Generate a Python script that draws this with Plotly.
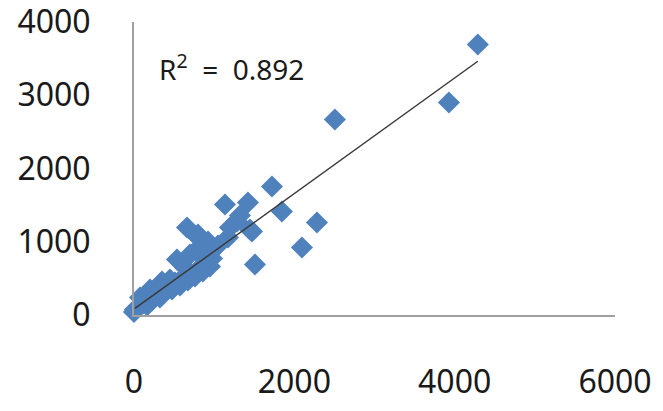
import plotly.graph_objects as go

# Observed values (x, y)
x_vals = [4289, 3928, 2506, 1721, 1845, 2282, 2095, 1509, 1135, 1421, 1471, 1197, 1322, 1284, 1446,
          661, 798, 923, 786, 910, 698, 536, 1047, 1172,
          0, 12, 62, 112, 162, 150, 224, 262, 324, 299, 374, 411, 474, 511, 574, 599, 673, 698, 761,
          798, 860, 885, 948, 973, 449, 200, 75, 349, 636, 786, 823]
y_vals = [3693, 2901, 2669, 1754, 1413, 1263, 922, 689, 1509, 1536, 1140, 1195, 1358, 1276, 1167,
          1195, 1099, 1003, 1072, 935, 826, 758, 949, 1058,
          40, 75, 116, 157, 130, 239, 198, 266, 239, 334, 307, 389, 348, 444, 403, 498, 471, 567, 526,
          621, 594, 689, 662, 771, 485, 348, 239, 457, 648, 894, 826]

# Linear trend
trend_slope = 0.789
trend_intercept = 80
r2_text = "R<sup>2</sup>  =  0.892"

x_ticks = [0, 2000, 4000, 6000]
y_ticks = [0, 1000, 2000, 3000, 4000]

FONT = "Noto Sans"
TXT = "#1a1a1a"

fig = go.Figure()
fig.add_trace(go.Scatter(
    x=x_vals, y=y_vals, mode="markers",
    marker=dict(symbol="diamond", size=17, color="#4F81BD", line=dict(width=0)),
    cliponaxis=False, showlegend=False,
))
tx = [min(x_vals) + 12, max(x_vals)]
fig.add_trace(go.Scatter(
    x=tx, y=[trend_slope * v + trend_intercept for v in tx], mode="lines",
    line=dict(color="#3a3a3a", width=1.5), showlegend=False, cliponaxis=False,
))
fig.add_annotation(x=287, y=3380, xref="x", yref="y", text=r2_text, showarrow=False,
                   xanchor="left", yanchor="middle",
                   font=dict(family=FONT, size=28, color=TXT))

fig.update_layout(
    width=663, height=411,
    margin=dict(l=134, r=48, t=22, b=96, autoexpand=False),
    paper_bgcolor="white", plot_bgcolor="white",
    font=dict(family=FONT, size=32, color=TXT),
)
fig.update_xaxes(range=[0, 6000], tickvals=x_ticks, ticktext=[str(v) for v in x_ticks],
                 showgrid=False, zeroline=False, showline=True, linecolor="#a0a0a0", linewidth=2,
                 automargin=False, ticks="outside", ticklen=38, tickcolor="rgba(0,0,0,0)",
                 ticklabeloverflow="allow",
                 tickfont=dict(family=FONT, size=32, color=TXT))
fig.update_yaxes(range=[0, 4000], tickvals=y_ticks, ticktext=[str(v) for v in y_ticks],
                 showgrid=False, zeroline=False, showline=True, linecolor="#a0a0a0", linewidth=2,
                 automargin=False, ticks="outside", ticklen=35, tickcolor="rgba(0,0,0,0)",
                 ticklabeloverflow="allow",
                 tickfont=dict(family=FONT, size=32, color=TXT))

fig.write_html("out.html")
